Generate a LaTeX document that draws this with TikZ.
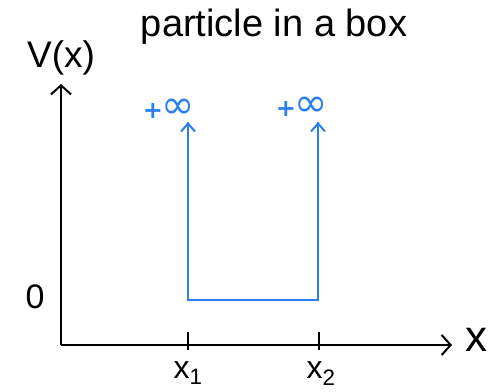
\documentclass[tikz,border=0pt]{standalone}
\usepackage{fontspec}
\setmainfont{Liberation Sans}
\newfontfamily\symfont{DejaVu Sans}
\usetikzlibrary{arrows.meta}
\definecolor{potblue}{HTML}{2A7FF0}
\begin{document}
\begin{tikzpicture}[x=1pt,y=-1pt,
  axis/.style={line width=2.2pt,black,-{Straight Barb[length=9pt,width=20pt,line width=2pt]}},
  wall/.style={line width=2.2pt,potblue},
  wallarrow/.style={wall,-{Straight Barb[length=8pt,width=14pt,line width=2pt]}},
  tick/.style={line width=2.5pt,black},
  lbl/.style={inner sep=0pt},
  bluelbl/.style={inner sep=0pt,text=potblue}]
\useasboundingbox (0,0) rectangle (494,391);
\coordinate (O) at (61,345);
\coordinate (Ytop) at (61,84);
\coordinate (Xend) at (452,345);
\draw[axis] (O) -- (Ytop);
\draw[axis] (O) -- (Xend);
\coordinate (t1a) at (188,332); \coordinate (t1b) at (188,350);
\coordinate (t2a) at (319,332); \coordinate (t2b) at (319,350);
\draw[tick] (t1a) -- (t1b);
\draw[tick] (t2a) -- (t2b);
\coordinate (w1top) at (188,122);
\coordinate (w1bot) at (188,300);
\coordinate (w2bot) at (318,300);
\coordinate (w2top) at (318,122);
\draw[wall,line join=miter] (w1top) -- (w1bot) -- (w2bot) -- (w2top);
\draw[wallarrow] (w1bot) -- (w1top);
\draw[wallarrow] (w2bot) -- (w2top);
\node[lbl,font=\fontsize{38}{40}\selectfont] (title) at (274,27) {particle in a box};
\node[lbl,font=\fontsize{37}{40}\selectfont] (V) at (61,58) {V(x)};
\node[lbl,font=\fontsize{34}{36}\selectfont] (zero) at (35,297) {0};
\node[lbl,font=\fontsize{44}{46}\selectfont] (xl) at (476,340) {x};
\node[lbl,font=\fontsize{32}{34}\selectfont,anchor=base] (x1) at (188,378) {x\textsubscript{1}};
\node[lbl,font=\fontsize{32}{34}\selectfont,anchor=base] (x2) at (321,378) {x\textsubscript{2}};
\node[bluelbl,font=\symfont,anchor=base] (inf1) at (169,118) {{\fontsize{24}{26}\selectfont\bfseries +}\kern-1pt{\fontsize{40}{42}\selectfont ∞}};
\node[bluelbl,font=\symfont,anchor=base] (inf2) at (302,116) {{\fontsize{24}{26}\selectfont\bfseries +}\kern-1pt{\fontsize{40}{42}\selectfont ∞}};
\end{tikzpicture}
\end{document}
